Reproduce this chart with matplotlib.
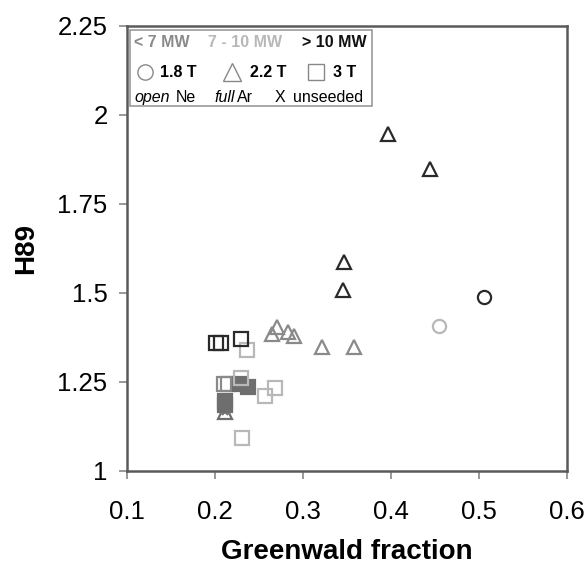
import matplotlib
matplotlib.use("Agg")
import matplotlib.pyplot as plt
from matplotlib.patches import Rectangle

plt.rcParams['font.family'] = ['Liberation Sans', 'DejaVu Sans']

# colours per heating power class
power_colors = {"low": "#8a8a8a", "mid": "#b8b8b8", "high": "#2a2a2a"}
fill_color = "#6e6e6e"

# ---- data: (Greenwald fraction, H89) ----
# > 10 MW
high_tri_x = [0.396, 0.444, 0.347, 0.345]
high_tri_y = [1.947, 1.847, 1.588, 1.508]
high_circ_x = [0.506]
high_circ_y = [1.490]
high_sq_x = [0.201, 0.207, 0.230]
high_sq_y = [1.360, 1.360, 1.372]

# 7 - 10 MW
mid_circ_x = [0.454]
mid_circ_y = [1.408]
mid_sq_x = [0.236, 0.231, 0.230, 0.257, 0.268]
mid_sq_y = [1.340, 1.094, 1.262, 1.211, 1.232]

# < 7 MW
low_tri_x = [0.265, 0.270, 0.283, 0.290, 0.322, 0.358]
low_tri_y = [1.385, 1.405, 1.390, 1.378, 1.347, 1.347]
low_sq_open_x = [0.210, 0.215]
low_sq_open_y = [1.244, 1.244]
low_sq_full_x = [0.228, 0.238, 0.211, 0.211]
low_sq_full_y = [1.243, 1.237, 1.196, 1.186]
low_unseeded_x = [0.211]
low_unseeded_y = [1.165]

xticks = [0.1, 0.2, 0.3, 0.4, 0.5, 0.6]
yticks = [1, 1.25, 1.5, 1.75, 2, 2.25]
ytick_labels = ["1", "1.25", "1.5", "1.75", "2", "2.25"]

fig = plt.figure(figsize=(5.87, 5.65), dpi=100)
ax = fig.add_axes([0.2164, 0.1664, 0.7496, 0.7876])

ms = 9.5
mew = 1.6

def openm(x, y, marker, color, size=ms):
    ax.plot(x, y, linestyle='none', marker=marker, markersize=size,
            markerfacecolor='none', markeredgecolor=color, markeredgewidth=mew)

# low
openm(low_tri_x, low_tri_y, '^', power_colors["low"], ms + 1)
openm(low_sq_open_x, low_sq_open_y, 's', power_colors["low"])
openm(low_unseeded_x, low_unseeded_y, '^', fill_color, ms + 1)
ax.plot(low_unseeded_x, low_unseeded_y, linestyle='none', marker='x',
        markersize=5, markeredgecolor=fill_color, markeredgewidth=1.4)
ax.plot(low_sq_full_x, low_sq_full_y, linestyle='none', marker='s', markersize=ms,
        markerfacecolor=fill_color, markeredgecolor=fill_color, markeredgewidth=mew)
# mid
openm(mid_circ_x, mid_circ_y, 'o', power_colors["mid"])
openm(mid_sq_x, mid_sq_y, 's', power_colors["mid"])
# high
openm(high_tri_x, high_tri_y, '^', power_colors["high"], ms + 1)
openm(high_circ_x, high_circ_y, 'o', power_colors["high"])
openm(high_sq_x, high_sq_y, 's', power_colors["high"])

ax.set_xlim(0.1, 0.6)
ax.set_ylim(1, 2.25)
ax.set_xticks(xticks)
ax.set_xticklabels([f"{v:g}" for v in xticks])
ax.set_yticks(yticks)
ax.set_yticklabels(ytick_labels)
ax.tick_params(direction='out', length=6, width=1.2, color='#888888', labelsize=18.5)
ax.tick_params(axis='x', pad=15)
ax.tick_params(axis='y', pad=8)
for s in ax.spines.values():
    s.set_color('#5a5a5a')
    s.set_linewidth(1.8)

ax.set_xlabel("Greenwald fraction", fontsize=20, fontweight='bold')
ax.xaxis.set_label_coords(0.5, -0.152)
ax.set_ylabel("H89", fontsize=20, fontweight='bold')
ax.yaxis.set_label_coords(-0.2, 0.5)

# ---- legend box ----
ax.add_patch(Rectangle((0.007, 0.82), 0.55, 0.171, transform=ax.transAxes,
                       fill=False, edgecolor='#999999', linewidth=1.2, zorder=5))
r1, r2, r3 = 0.963, 0.896, 0.84
fs = 11.5
ax.text(0.016, r1, "< 7 MW", transform=ax.transAxes, fontsize=fs, fontweight='bold',
        color=power_colors["low"], va='center')
ax.text(0.184, r1, "7 - 10 MW", transform=ax.transAxes, fontsize=fs, fontweight='bold',
        color=power_colors["mid"], va='center')
ax.text(0.398, r1, "> 10 MW", transform=ax.transAxes, fontsize=fs, fontweight='bold',
        color='#111111', va='center')

ax.plot([0.041], [r2], transform=ax.transAxes, marker='o', markersize=11,
        markerfacecolor='none', markeredgecolor='#888888', markeredgewidth=1.0,
        linestyle='none', clip_on=False)
ax.text(0.075, r2, "1.8 T", transform=ax.transAxes, fontsize=fs, fontweight='bold', va='center')
ax.plot([0.238], [r2], transform=ax.transAxes, marker='^', markersize=13,
        markerfacecolor='none', markeredgecolor='#888888', markeredgewidth=1.0,
        linestyle='none', clip_on=False)
ax.text(0.280, r2, "2.2 T", transform=ax.transAxes, fontsize=fs, fontweight='bold', va='center')
ax.plot([0.429], [r2], transform=ax.transAxes, marker='s', markersize=11,
        markerfacecolor='none', markeredgecolor='#888888', markeredgewidth=1.0,
        linestyle='none', clip_on=False)
ax.text(0.468, r2, "3 T", transform=ax.transAxes, fontsize=fs, fontweight='bold', va='center')

ax.text(0.016, r3, "open", transform=ax.transAxes, fontsize=fs, style='italic', va='center')
ax.text(0.11, r3, "Ne", transform=ax.transAxes, fontsize=fs, va='center')
ax.text(0.198, r3, "full", transform=ax.transAxes, fontsize=fs, style='italic', va='center')
ax.text(0.25, r3, "Ar", transform=ax.transAxes, fontsize=fs, va='center')
ax.text(0.336, r3, "X", transform=ax.transAxes, fontsize=fs, va='center')
ax.text(0.377, r3, "unseeded", transform=ax.transAxes, fontsize=fs, va='center')

fig.savefig("out.png", dpi=100)
